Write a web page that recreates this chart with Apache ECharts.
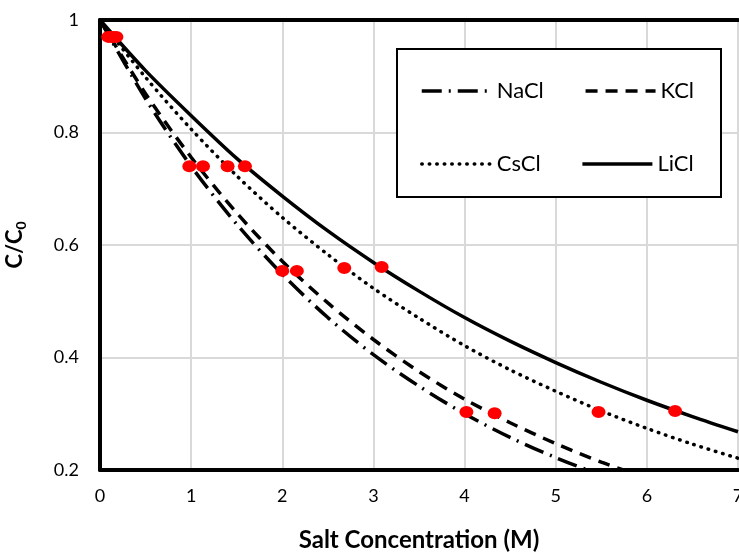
<!DOCTYPE html>
<html><head><meta charset="utf-8">
<script src="https://cdn.jsdelivr.net/npm/echarts@6/dist/echarts.min.js"></script>
<style>html,body{margin:0;padding:0;background:#fff}#c{width:739px;height:554px}</style>
</head><body><div id="c"></div>
<script>
// curve sample x positions (M)
const curveX = [0,0.5,1,1.5,2,2.5,3,3.5,4,4.5,5,5.5,6,6.5,7];
// curves (C/C0)
const naclCurve = [1,0.86,0.74,0.637,0.548,0.471,0.405,0.349,0.300,0.258,0.222,0.191,0.165];
const kclCurve  = [1,0.869,0.756,0.657,0.571,0.497,0.432,0.375,0.326,0.284,0.247,0.214,0.186];
const csclCurve = [1,0.898,0.806,0.723,0.649,0.583,0.523,0.470,0.421,0.378,0.340,0.305,0.274,0.246,0.221];
const liclCurve = [1,0.91,0.83,0.754,0.687,0.625,0.569,0.518,0.471,0.429,0.391,0.356,0.324,0.295,0.268];
// measured points
const naclPtsX = [0.09,0.98,2.0,4.02];
const kclPtsX  = [0.12,1.13,2.16,4.33];
const csclPtsX = [0.15,1.40,2.68,5.47];
const liclPtsX = [0.18,1.59,3.09,6.31];
const naclPtsY = [0.97,0.74,0.554,0.303];
const kclPtsY  = [0.97,0.74,0.554,0.301];
const csclPtsY = [0.97,0.74,0.559,0.303];
const liclPtsY = [0.97,0.74,0.561,0.305];

const pair = (xs, ys) => ys.map((v,i)=>[xs[i], v]);
const FONT = 'Lato';
const chart = echarts.init(document.getElementById('c'));
const lineS = (name, ys, type, cap) => ({
  name, type:'line', data: pair(curveX, ys), smooth:0.3, symbol:'none', showSymbol:false, clip:true,
  lineStyle:{color:'#000', width:3.5, type: type, cap: cap || 'butt'},
  itemStyle:{color:'#000'}, z:2
});
const ptS = (xs, ys) => ({
  type:'scatter', data: pair(xs, ys), symbol:'circle', symbolSize:[14,12],
  itemStyle:{color:'#ff0000', opacity:1}, z:3
});
const legendText = {fontSize:22, color:'#000', fontFamily:FONT};
const legendBase = {left:415, itemWidth:70, itemHeight:14, itemGap:40, z:10,
  textStyle:legendText, itemStyle:{opacity:0, borderWidth:0}, lineStyle:{width:3.5}};
chart.setOption({
  animation:false,
  textStyle:{fontFamily:FONT},
  grid:{left:100, top:20, right:1, bottom:84, containLabel:false, outerBoundsMode:'none'},
  xAxis:[{type:'value', min:0, max:7, interval:1,
    axisLine:{show:true, onZero:false, lineStyle:{color:'#000', width:4}}, axisTick:{show:false},
    splitLine:{show:true, lineStyle:{color:'#d9d9d9', width:2}},
    axisLabel:{color:'#000', fontSize:18, margin:17, fontFamily:FONT},
    name:'Salt Concentration (M)', nameLocation:'middle', nameGap:58,
    nameTextStyle:{color:'#000', fontSize:24, fontWeight:'bold', fontFamily:FONT}},
    {type:'value', position:'top', min:0, max:7, interval:1,
    axisLine:{show:true, onZero:false, lineStyle:{color:'#000', width:4}}, axisTick:{show:false},
    axisLabel:{show:false}, splitLine:{show:false}}],
  yAxis:{type:'value', min:0.2, max:1, interval:0.2,
    axisLine:{show:true, onZero:false, lineStyle:{color:'#000', width:4}}, axisTick:{show:false},
    splitLine:{show:true, lineStyle:{color:'#d9d9d9', width:2}},
    axisLabel:{color:'#000', fontSize:18, margin:21, fontFamily:FONT,
      formatter:v=>String(Math.round(v*10)/10)},
    name:'{a|C/C}{s|0}', nameLocation:'middle', nameGap:72, nameRotate:90,
    nameTextStyle:{rich:{a:{color:'#000', fontSize:22, fontWeight:'bold', fontFamily:FONT},
      s:{color:'#000', fontSize:14, fontWeight:'bold', fontFamily:FONT, padding:[12,0,0,0]}}}},
  graphic:[{type:'rect', z:5, shape:{x:397, y:49, width:324, height:148},
    style:{fill:'#fff', stroke:'#000', lineWidth:2}}],
  legend:[
    Object.assign({data:['NaCl','KCl'], top:75}, legendBase),
    Object.assign({data:['CsCl','LiCl'], top:148}, legendBase)
  ],
  series:[
    lineS('NaCl', naclCurve, [20,7,2,7]),
    lineS('KCl', kclCurve, [12,8]),
    lineS('CsCl', csclCurve, [0.5,7], 'round'),
    lineS('LiCl', liclCurve, 'solid'),
    ptS(naclPtsX, naclPtsY), ptS(kclPtsX, kclPtsY), ptS(csclPtsX, csclPtsY), ptS(liclPtsX, liclPtsY)
  ]
});
</script></body></html>
